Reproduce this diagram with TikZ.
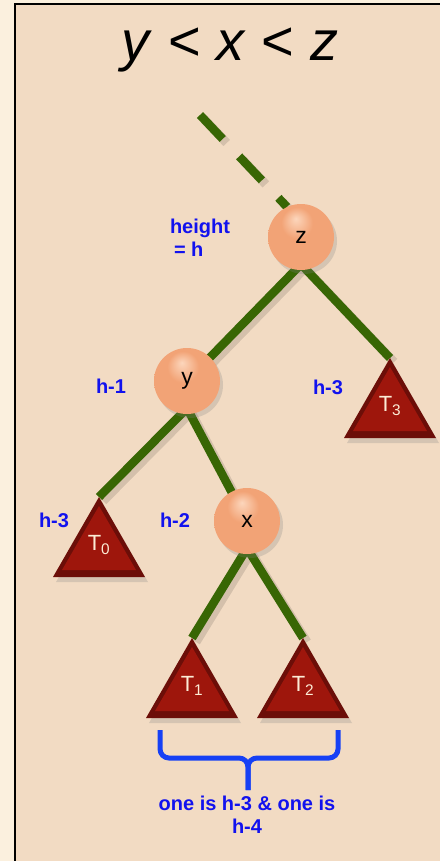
\documentclass[tikz,border=0pt]{standalone}
\usepackage{fontspec}
\setmainfont{Liberation Sans}
\usetikzlibrary{shadows}

\definecolor{paper}{RGB}{251,240,222}
\definecolor{panel}{RGB}{242,219,195}
\definecolor{branchgreen}{RGB}{56,102,4}
\definecolor{labelblue}{RGB}{18,18,238}
\definecolor{bracketblue}{RGB}{22,64,245}
\definecolor{ballhi}{RGB}{252,214,188}
\definecolor{ballin}{RGB}{242,163,118}
\definecolor{ballout}{RGB}{206,118,78}
\definecolor{treedark}{RGB}{108,14,8}
\definecolor{treered}{RGB}{158,22,12}
\definecolor{treetext}{RGB}{252,236,214}

\pgfdeclareradialshading{pearl}{\pgfpoint{-4bp}{14bp}}{color(0bp)=(ballhi); color(12bp)=(ballin); color(40bp)=(ballin); color(50bp)=(ballout)}

\pgfdeclarelayer{back}
\pgfdeclarelayer{edges}
\pgfsetlayers{back,edges,main}

\begin{document}
\begin{tikzpicture}[x=1pt,y=-1pt,
  ball/.style={circle,minimum size=66pt,inner sep=0pt,shading=pearl,
    drop shadow={shadow xshift=3pt,shadow yshift=-4pt,opacity=.25},
    font=\fontsize{23}{23}\selectfont},
  branch/.style={line width=8.5pt,draw=branchgreen},
  branchshade/.style={line width=9pt,draw=black,opacity=.12},
  subtree/.style={fill=treedark,drop shadow={shadow xshift=3pt,shadow yshift=-5pt,opacity=.25}},
  treelabel/.style={text=treetext,font=\fontsize{22}{22}\selectfont},
  lab/.style={text=labelblue,font=\bfseries\fontsize{20}{23}\selectfont,align=center},
  bracket/.style={line width=5pt,draw=bracketblue,rounded corners=9pt}]
\useasboundingbox (0,0) rectangle (440,861);

\begin{pgfonlayer}{back}
\fill[paper] (0,0) rectangle (440,861);
\fill[panel] (15,4) rectangle (440,861);
\draw[line width=1.6pt] (15,861) -- (15,4) -- (440,4);
\end{pgfonlayer}

\node[font=\fontsize{56}{60}\selectfont,anchor=base] (title) at (230,61) {\textit{y} < \textit{x} < \textit{z}};

% keys
\node[ball] (z) at (301,237) {z};
\node[ball] (y) at (187,381) {y};
\node[ball] (x) at (247,521) {x};
\coordinate (above) at (200,115);

% subtrees
\foreach \t/\ax/\ay/\n in {T0/99/497/0, T1/192/638/1, T2/303/638/2, T3/390/358/3} {
  \coordinate (\t) at (\ax,\ay);
  \fill[subtree] (\t) -- ++(-46,80) -- ++(92,0) -- cycle;
  \fill[treered] ([shift={(0,9)}]\t) -- ++(-37,64) -- ++(74,0) -- cycle;
  \node[treelabel] (\t lab) at ([shift={(0,48)}]\t) {T\textsubscript{\n}};
}

\begin{pgfonlayer}{edges}
\draw[branchshade,dash pattern=on 33pt off 24pt] ([shift={(4,4)}]above) -- ([shift={(4,4)}]z.115);
\draw[branch,dash pattern=on 33pt off 24pt] (above) -- (z.115);
\foreach \a/\b in {z.south/y.center, z.south/T3, y.south/T0, y.south/x.center, x.south/T1, x.south/T2} {
  \draw[branchshade] ([shift={(4,-2)}]\a) -- ([shift={(4,4)}]\b);
  \draw[branch] ([shift={(0,-6)}]\a) -- (\b);
}
\end{pgfonlayer}

% heights
\node[lab,align=left] (hz) at (200,238) {height\\\hspace{4pt}= h};
\node[lab] (hy) at (111,386) {h-1};
\node[lab] (hthree) at (328,387) {h-3};
\node[lab] (hzero) at (54,520) {h-3};
\node[lab] (hx) at (175,520) {h-2};

\draw[bracket] (160,730) -- (160,758) -- (248,758) -- (248,790);
\draw[bracket] (338,730) -- (338,758) -- (248,758) -- (248,790);
\node[lab] (note) at (247,815) {one is h-3 \& one is\\h-4};
\end{tikzpicture}
\end{document}
